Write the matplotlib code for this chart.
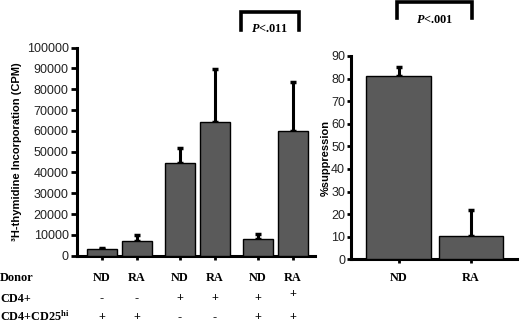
import matplotlib
matplotlib.use("Agg")
import matplotlib.pyplot as plt
import matplotlib.transforms as mtransforms
import numpy as np

# ---- data ----
donors = ["ND", "RA", "ND", "RA", "ND", "RA"]
cd4_row = ["-", "-", "+", "+", "+", "+"]
cd25_row = ["+", "+", "-", "-", "+", "+"]
cpm = [3100, 7200, 44800, 64300, 8000, 60000]
cpm_err = [600, 2800, 6800, 25600, 2400, 23700]
left_yticks = [0, 10000, 20000, 30000, 40000, 50000, 60000, 70000, 80000, 90000, 100000]

sup_groups = ["ND", "RA"]
suppression = [81.0, 10.4]
sup_err = [4.0, 11.3]
right_yticks = [0, 10, 20, 30, 40, 50, 60, 70, 80, 90]

p_left = "P<.011"
p_right = "P<.001"

# ---- style ----
plt.rcParams["font.family"] = ["Liberation Sans", "DejaVu Sans"]
plt.rcParams["mathtext.fontset"] = "custom"
plt.rcParams["mathtext.it"] = "Liberation Serif:italic:bold"
plt.rcParams["mathtext.rm"] = "Liberation Serif:bold"

W, H = 520, 325
fig = plt.figure(figsize=(W / 100, H / 100), dpi=100)

def fx(px):
    return px / W

def fy(py):
    return 1 - py / H

bar_color = "#5a5a5a"
tick_color = "#222222"

# ---- left panel ----
axL = fig.add_axes([fx(77), fy(255.7), fx(315 - 77), 208 / H])
xpos = np.array([0, 1, 2.23, 3.23, 4.46, 5.46])
axL.bar(xpos, cpm, width=0.86, color=bar_color, edgecolor="black", linewidth=1.0, zorder=3)
axL.errorbar(xpos, cpm, yerr=[np.zeros(len(cpm)), cpm_err], fmt="none", ecolor="black",
             elinewidth=2.2, capsize=2.5, capthick=2.5, zorder=2)
axL.set_xlim(-0.71, 6.09)
axL.set_ylim(0, 100000)
axL.set_yticks(left_yticks)
axL.set_yticklabels([str(v) for v in left_yticks], fontsize=9, color=tick_color)
axL.set_xticks(xpos)
axL.set_xticklabels([])
axL.tick_params(axis="y", direction="out", length=4, width=2, pad=2)
axL.tick_params(axis="x", direction="out", length=3, width=2)
for s in ["top", "right"]:
    axL.spines[s].set_visible(False)
for s in ["left", "bottom"]:
    axL.spines[s].set_linewidth(2.2)
axL.set_ylabel("³H-thymidine Incorporation (CPM)", fontsize=8, fontweight="bold", labelpad=3)

# ---- right panel ----
axR = fig.add_axes([fx(350.7), fy(259.3), fx(516.7 - 350.7), 203.4 / H])
xr = np.array([0, 1])
axR.bar(xr, suppression, width=0.885, color=bar_color, edgecolor="black", linewidth=1.0, zorder=3)
axR.errorbar(xr, suppression, yerr=[np.zeros(2), sup_err], fmt="none", ecolor="black",
             elinewidth=2.2, capsize=2.5, capthick=2.5, zorder=2)
axR.set_xlim(-0.66, 1.63)
axR.set_ylim(0, 90)
axR.set_yticks(right_yticks)
axR.set_yticklabels([str(v) for v in right_yticks], fontsize=9, color=tick_color)
axR.set_xticks(xr)
axR.set_xticklabels([])
axR.tick_params(axis="y", direction="out", length=3, width=2, pad=1)
axR.tick_params(axis="x", direction="out", length=3, width=2)
for s in ["top", "right"]:
    axR.spines[s].set_visible(False)
for s in ["left", "bottom"]:
    axR.spines[s].set_linewidth(2.2)
axR.set_ylabel("%suppression", fontsize=8, fontweight="bold", labelpad=0)

# ---- table under left panel ----
serif = dict(family=["Liberation Serif", "DejaVu Serif"], fontweight="bold", fontsize=8.8)
transL = mtransforms.blended_transform_factory(axL.transData, fig.transFigure)
row_y = [278, 298.5, 317]
fig.text(fx(0), fy(row_y[0]), "Donor", ha="left", va="center", **serif)
fig.text(fx(0), fy(row_y[1]), "CD4+", ha="left", va="center", **serif)
fig.text(fx(0), fy(row_y[2]), "CD4+CD25$^{\\mathrm{hi}}$", ha="left", va="center", **serif)
for i, x in enumerate(xpos):
    axL.text(x, fy(row_y[0]), donors[i], transform=transL, ha="center", va="center", **serif)
    yy = fy(294) if i == len(xpos) - 1 else fy(row_y[1])
    axL.text(x, yy, cd4_row[i], transform=transL, ha="center", va="center", **serif)
    axL.text(x, fy(row_y[2]), cd25_row[i], transform=transL, ha="center", va="center", **serif)

transR = mtransforms.blended_transform_factory(axR.transData, fig.transFigure)
for i, x in enumerate(xr):
    axR.text(x, fy(row_y[0]), sup_groups[i], transform=transR, ha="center", va="center", **serif)

# ---- significance brackets ----
def bracket(ax, trans, x0, x1, ytop, ybot, label, ytext):
    ax.plot([x0, x0, x1, x1], [fy(ybot), fy(ytop), fy(ytop), fy(ybot)], transform=trans,
            color="black", lw=2.6, clip_on=False, solid_joinstyle="miter")
    ax.text((x0 + x1) / 2, fy(ytext), "$P$" + label[1:], transform=trans, ha="center",
            va="center", **serif)

bracket(axL, transL, 3.97, 5.63, 12.3, 30, p_left, 29)
bracket(axR, transR, -0.02, 1.02, 1.7, 18, p_right, 20)

fig.savefig("out.png", dpi=100)
